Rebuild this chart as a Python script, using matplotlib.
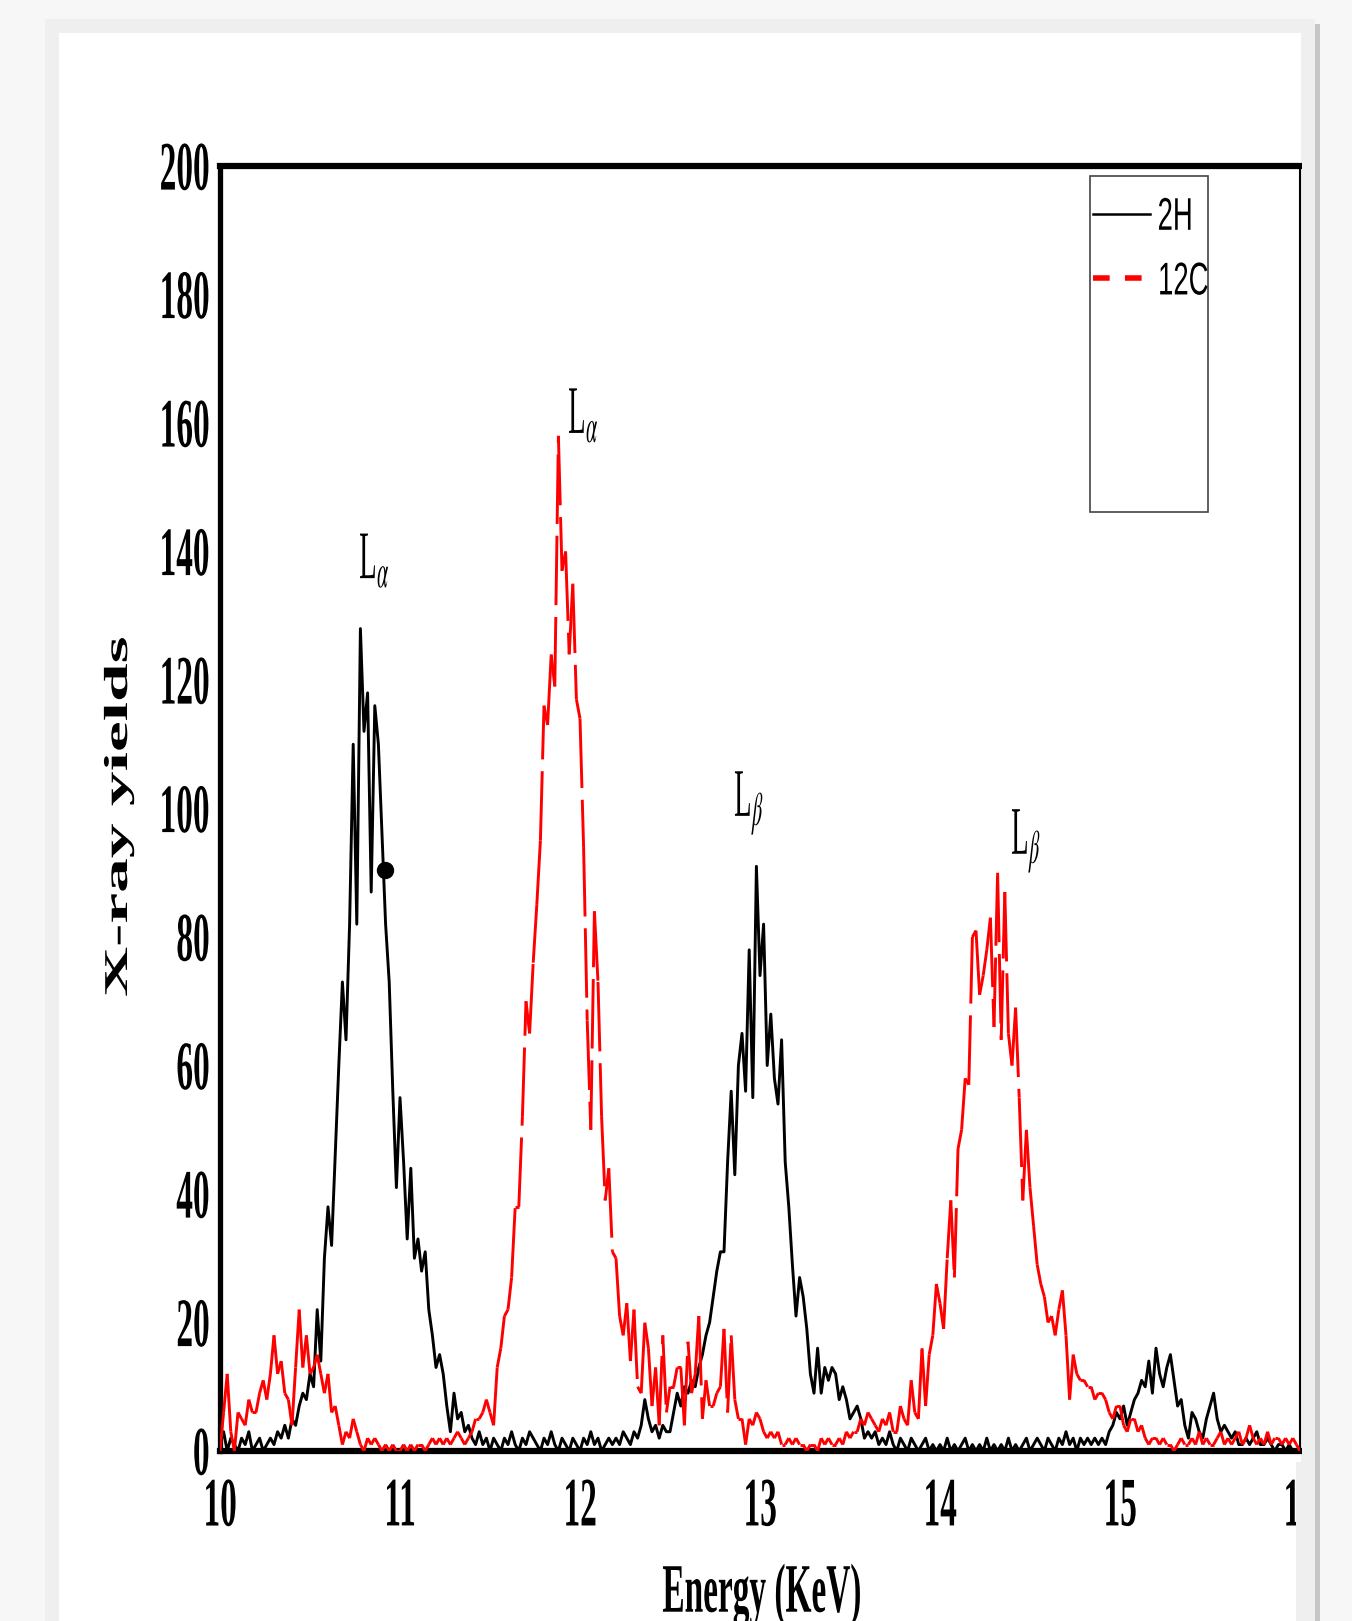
import numpy as np
import matplotlib
matplotlib.use("Agg")
from matplotlib import pyplot as plt
from matplotlib.collections import LineCollection
from matplotlib.lines import Line2D
from matplotlib.patches import Rectangle
from matplotlib.patheffects import AbstractPathEffect
from matplotlib.transforms import Affine2D

# Data (0.02 keV channels from 10 to 16 keV)

energie = np.linspace(10, 16, 301)

y_2h = [
    1, 3, 0, 2, 1, 0, 2, 1, 3, 0,
    1, 2, 0, 1, 2, 1, 3, 2, 4, 2,
    5, 4, 7, 9, 8, 12, 10, 22, 14, 30,
    38, 32, 46, 60, 73, 64, 82, 110, 82, 128,
    112, 118, 87, 116, 110, 96, 82, 73, 56, 41,
    55, 45, 33, 44, 30, 33, 28, 31, 22, 18,
    13, 15, 12, 7, 3, 9, 5, 6, 3, 4,
    2, 1, 3, 1, 2, 0, 2, 1, 0, 2,
    1, 3, 1, 0, 2, 1, 3, 2, 1, 0,
    2, 1, 3, 1, 0, 2, 1, 0, 2, 1,
    0, 2, 1, 3, 1, 2, 0, 1, 2, 1,
    2, 1, 3, 2, 1, 3, 2, 4, 8, 5,
    3, 4, 2, 4, 3, 3, 6, 9, 7, 10,
    9, 11, 10, 13, 15, 18, 20, 24, 28, 31,
    31, 45, 56, 43, 60, 65, 56, 78, 55, 91,
    74, 82, 60, 68, 58, 54, 64, 45, 38, 29,
    21, 27, 24, 19, 12, 9, 16, 9, 13, 11,
    13, 12, 8, 10, 8, 5, 6, 7, 5, 2,
    3, 2, 3, 1, 2, 1, 3, 1, 0, 2,
    1, 0, 2, 1, 0, 1, 2, 0, 1, 0,
    1, 0, 2, 0, 1, 0, 1, 2, 0, 1,
    0, 1, 0, 2, 0, 1, 0, 1, 0, 2,
    0, 1, 0, 1, 2, 0, 1, 2, 1, 0,
    2, 1, 0, 2, 1, 3, 1, 2, 0, 2,
    1, 2, 1, 2, 1, 2, 1, 3, 4, 6,
    5, 7, 4, 6, 8, 9, 11, 10, 14, 9,
    16, 12, 10, 13, 15, 11, 7, 8, 4, 2,
    6, 5, 3, 2, 5, 7, 9, 5, 3, 4,
    3, 2, 3, 1, 1, 2, 1, 2, 3, 1,
    1, 2, 1, 0, 1, 1, 0, 1, 0, 0,
    0,
]

y_12c = [
    0, 6, 12, 3, 0, 6, 5, 4, 8, 6,
    6, 9, 11, 8, 12, 18, 12, 14, 9, 8,
    4, 13, 22, 13, 18, 12, 13, 15, 12, 9,
    12, 6, 7, 4, 1, 3, 2, 5, 3, 1,
    0, 2, 1, 2, 1, 0, 1, 0, 1, 0,
    0, 1, 0, 1, 0, 1, 1, 0, 1, 2,
    1, 2, 1, 2, 1, 2, 3, 2, 1, 2,
    3, 5, 5, 6, 8, 6, 4, 13, 16, 21,
    22, 27, 38, 38, 52, 70, 65, 76, 85, 95,
    116, 113, 124, 119, 158, 137, 140, 124, 135, 117,
    114, 94, 67, 50, 84, 73, 52, 39, 44, 31,
    30, 21, 18, 23, 14, 22, 10, 9, 20, 16,
    7, 13, 4, 18, 6, 10, 10, 13, 13, 4,
    17, 9, 12, 21, 5, 11, 7, 7, 9, 10,
    19, 6, 18, 8, 5, 5, 1, 5, 4, 6,
    5, 3, 2, 3, 2, 3, 1, 1, 2, 1,
    2, 1, 1, 0, 1, 1, 0, 2, 1, 2,
    1, 1, 2, 1, 3, 2, 3, 3, 5, 4,
    6, 5, 4, 3, 5, 4, 6, 3, 3, 7,
    5, 4, 11, 6, 5, 16, 7, 15, 18, 26,
    23, 19, 30, 39, 27, 47, 50, 58, 57, 80,
    81, 71, 74, 78, 83, 66, 90, 64, 87, 65,
    60, 69, 55, 39, 50, 41, 35, 29, 26, 24,
    20, 21, 18, 22, 25, 18, 8, 15, 12, 11,
    11, 10, 10, 8, 9, 9, 8, 6, 5, 7,
    7, 4, 3, 5, 5, 3, 4, 2, 1, 2,
    2, 1, 2, 1, 1, 0, 1, 2, 1, 1,
    2, 1, 3, 1, 2, 1, 1, 2, 3, 1,
    2, 1, 2, 3, 1, 2, 4, 2, 1, 2,
    1, 3, 1, 2, 2, 1, 2, 1, 2, 1,
    0,
]

# single marked point on the 2H L-alpha peak
tecka_x = [10.917]
tecka_y = [90.4]

# peak labels
popisky = ["L$_\\alpha$", "L$_\\alpha$", "L$_\\beta$", "L$_\\beta$"]
popisky_x = [10.767, 11.928, 12.85, 14.389]
popisky_y = [135.8, 158.4, 98.8, 92.9]

osa_x = [10, 11, 12, 13, 14, 15, 16]
osa_y = [0, 20, 40, 60, 80, 100, 120, 140, 160, 180, 200]

W, H = 1352, 1621

plt.rcParams["font.family"] = "Liberation Serif"
plt.rcParams["mathtext.fontset"] = "stix"
plt.rcParams["lines.scale_dashes"] = False


class Squeeze(AbstractPathEffect):
    """Rescale glyphs around an anchor (the source figure uses tall condensed lettering)."""

    def __init__(self, sx, sy=1.0, ha="center", va="center"):
        super().__init__()
        self.sx, self.sy = sx, sy
        self.ha, self.va = ha, va

    def draw_path(self, renderer, gc, tpath, affine, rgbFace=None):
        box = tpath.get_extents(affine)
        x0 = {"left": box.x0, "right": box.x1}.get(self.ha, 0.5 * (box.x0 + box.x1))
        y0 = {"bottom": box.y0, "top": box.y1}.get(self.va, 0.5 * (box.y0 + box.y1))
        sq = Affine2D().translate(-x0, -y0).scale(self.sx, self.sy).translate(x0, y0)
        renderer.draw_path(gc, tpath, affine + sq, rgbFace)


def obdelnik(fig, x0, y0, x1, y1, barva, z):
    """Rectangle given in pixels (top-left origin)."""
    fig.add_artist(Rectangle((x0 / W, 1 - y1 / H), (x1 - x0) / W, (y1 - y0) / H,
                             transform=fig.transFigure, facecolor=barva,
                             edgecolor="none", zorder=z))


fig = plt.figure(figsize=(W / 100, H / 100), dpi=100)
fig.patch.set_facecolor("#f7f7f7")

# page frame behind the chart
obdelnik(fig, 45, 19, 1315, H, "#efefef", -5)
obdelnik(fig, 1315, 24, 1320, H, "#c6c6c6", -5)
obdelnik(fig, 59, 33, 1301, H, "#ffffff", -4)

ax = fig.add_axes([220 / W, 1 - 1451 / H, 1080 / W, 1285 / H])
ax.set_facecolor("none")

ax.plot(energie, y_2h, color="black", lw=2.1, zorder=2)

body = np.column_stack([energie, y_12c])
useky = np.stack([body[:-1], body[1:]], axis=1)
lc = LineCollection(useky, colors="#ff0000", linewidths=2.1,
                    linestyles=[(0, (50, 8.5))], zorder=3)
ax.add_collection(lc)

ax.plot(tecka_x, tecka_y, "o", color="black", ms=11.5, zorder=4)

for txt, px, py in zip(popisky, popisky_x, popisky_y):
    t = ax.text(px, py, txt, fontsize=49, ha="left", va="baseline",
                family="Liberation Serif")
    t.set_path_effects([Squeeze(0.42, 1.0, "left")])

# tick labels: 30 pt text drawn tall and narrow
natah = 50 / 30
ax.set_xlim(10, 16)
ax.set_ylim(0, 200)
ax.set_xticks(osa_x, labels=[str(v) for v in osa_x], fontsize=30, fontweight="bold")
ax.set_yticks(osa_y, labels=[str(v) for v in osa_y], fontsize=30, fontweight="bold")
ax.tick_params(axis="x", length=0, pad=19.5)
ax.tick_params(axis="y", length=0, pad=7.2)
for t in ax.get_xticklabels():
    t.set_path_effects([Squeeze(0.48 * natah, natah, "center", "top")])
for t in ax.get_yticklabels():
    t.set_path_effects([Squeeze(0.48 * natah, natah, "right", "center")])

ax.spines["top"].set_linewidth(4.5)
ax.spines["bottom"].set_linewidth(4.5)
ax.spines["left"].set_linewidth(3.8)
ax.spines["right"].set_linewidth(1.5)

# legend
handles = [Line2D([], [], color="black", lw=1.8),
           Line2D([], [], color="#ff0000", lw=4, linestyle=(0, (12, 11)))]
leg = ax.legend(handles, ["2H", "12C"], loc="upper left",
                bbox_to_anchor=(0.7926, 0.990), frameon=False,
                prop={"family": "Liberation Sans", "size": 33},
                handlelength=1.24, handletextpad=0.15, labelspacing=0.45,
                borderpad=0.37, borderaxespad=0)
for t in leg.get_texts():
    t.set_path_effects([Squeeze(0.6, 1.0, "left")])
ax.add_patch(Rectangle((0.8056, 0.7304), 0.1092, 0.2618, transform=ax.transAxes,
                       fill=False, edgecolor="#444444", lw=1.2, zorder=5))

# axis titles
t = fig.text(119 / W, 1 - 817 / H, "X-ray yields", rotation=90, ha="center",
             va="center", fontsize=30, fontweight="bold")
t.set_path_effects([Squeeze(0.48 * natah, natah, "center", "center")])
t = fig.text(762 / W, 1 - 1563 / H, "Energy (KeV)", ha="center", va="top",
             fontsize=30, fontweight="bold")
t.set_path_effects([Squeeze(0.48 * natah, natah, "center", "top")])

# right page edge drawn over the last tick label
obdelnik(fig, 1302, 0, 1315, H, "#efefef", 10)
obdelnik(fig, 1296, 1462, 1315, H, "#efefef", 10)
obdelnik(fig, 1315, 24, 1320, H, "#c6c6c6", 10)
obdelnik(fig, 1320, 0, W, H, "#f7f7f7", 10)
obdelnik(fig, 1302, 0, W, 24, "#f7f7f7", 10)
obdelnik(fig, 1302, 19, 1315, 24, "#efefef", 10)

fig.savefig("out.png", dpi=100)
